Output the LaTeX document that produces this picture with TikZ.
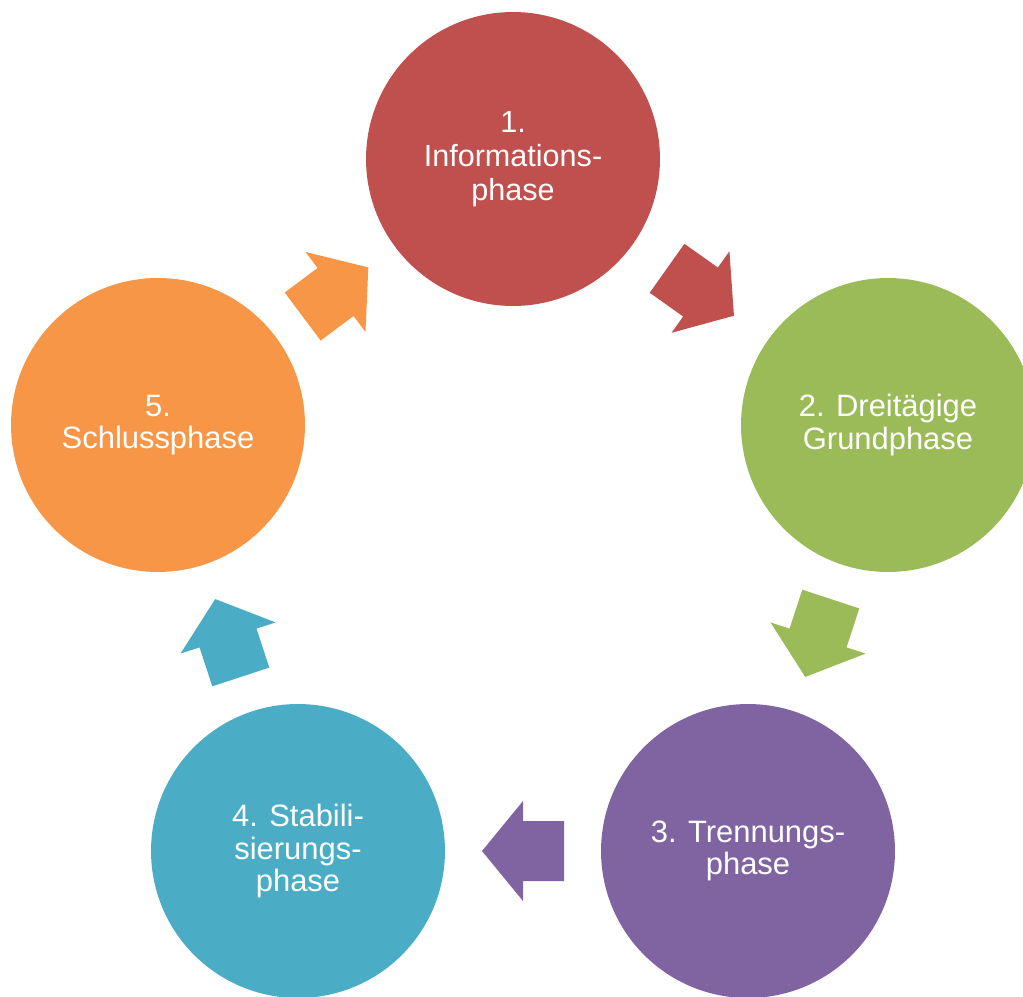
\documentclass[tikz,border=0pt]{standalone}
\usepackage{fontspec}
\setmainfont{Liberation Sans}

\definecolor{phasered}{HTML}{C0504D}
\definecolor{phasegreen}{HTML}{9BBB59}
\definecolor{phasepurple}{HTML}{8064A2}
\definecolor{phaseteal}{HTML}{4BACC6}
\definecolor{phaseorange}{HTML}{F79646}

\begin{document}
\begin{tikzpicture}[x=0.02cm, y=0.02cm]

\tikzset{phase/.style = {shape=circle, minimum size=5.88cm, inner sep=0pt, text=white, align=center, font=\fontsize{17.6}{18.5}\selectfont}}
\tikzset{cyclearrow/.pic = {\fill (-41,-30) -- (0,-30) -- (0,-50) -- (41,0) -- (0,50) -- (0,30) -- (-41,30) -- cycle;}}

\useasboundingbox (0,0) rectangle (1023,-996);
%phases
\node[phase, fill=phasered, font=\fontsize{17.4}{19.4}\selectfont] (1) at (513,-159) {1.\\Informations-\\phase};
\node[phase, fill=phasegreen] (2) at (888,-425) {2. Dreitägige\\Grundphase};
\node[phase, fill=phasepurple] (3) at (748,-851) {3. Trennungs-\\phase};
\node[phase, fill=phaseteal] (4) at (298,-851) {4. Stabili-\\sierungs-\\phase};
\node[phase, fill=phaseorange] (5) at (158,-425) {5.\\Schlussphase};
%arrows
\path (1) -- (2) pic[pos=0.5, sloped, allow upside down, fill=phasered] {cyclearrow};
\path (2) -- (3) pic[pos=0.5, sloped, allow upside down, fill=phasegreen] {cyclearrow};
\path (3) -- (4) pic[pos=0.5, sloped, allow upside down, fill=phasepurple] {cyclearrow};
\path (4) -- (5) pic[pos=0.5, sloped, allow upside down, fill=phaseteal] {cyclearrow};
\path (5) -- (1) pic[pos=0.5, sloped, allow upside down, fill=phaseorange] {cyclearrow};

\end{tikzpicture}
\end{document}
